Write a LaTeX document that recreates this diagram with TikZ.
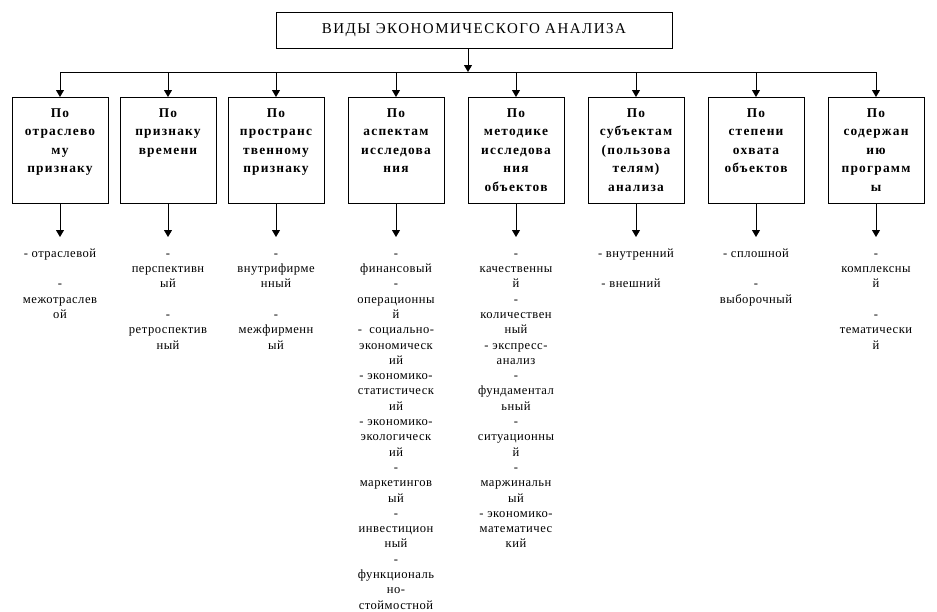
\documentclass[tikz,border=0pt]{standalone}
\usepackage{fontspec}
\setmainfont{Liberation Serif}
\newfontfamily\boxfont[LetterSpace=9]{Liberation Serif}
\newfontfamily\titlefont[LetterSpace=10]{Liberation Serif}
\newfontfamily\listfont[LetterSpace=4]{Liberation Serif}
\usetikzlibrary{arrows.meta}
\newcommand\cattext[1]{\parbox[t][106pt][t]{96pt}{\centering\rule{0pt}{20pt}#1}}
\begin{document}
\begin{tikzpicture}[x=1pt,y=-1pt,
  titlebox/.style={draw, line width=0.9pt, minimum width=396pt, minimum height=36pt, inner sep=0pt,
    font=\titlefont\fontsize{15}{18}\selectfont, text height=10pt, text depth=3pt},
  catbox/.style={draw, line width=0.9pt, inner sep=0pt, anchor=north,
    font=\boxfont\bfseries\fontsize{13.4}{18.5}\selectfont},
  listnode/.style={anchor=north, inner sep=0pt, align=center,
    font=\listfont\fontsize{12.6}{15.3}\selectfont},
  conn/.style={line width=0.9pt, -{Triangle[length=7pt,width=8pt]}},
  bus/.style={line width=0.9pt}]
\useasboundingbox (0,0) rectangle (937,611);

\node[titlebox] (t) at (474,30) {ВИДЫ ЭКОНОМИЧЕСКОГО АНАЛИЗА};
\coordinate (hub) at (468,72);
\draw[conn] (t.south -| hub) -- (hub);

\foreach \k/\cx in {1/60,2/168,3/276,4/396,5/516,6/636,7/756,8/876}{
  \coordinate (j\k) at (\cx,72);
  \coordinate (a\k) at (\cx,237);
}
\draw[bus] (j1) -- (j8);

\node[catbox] (b1) at (60,97)  {\cattext{По\\отраслево\\му\\признаку}};
\node[catbox] (b2) at (168,97) {\cattext{По\\признаку\\времени}};
\node[catbox] (b3) at (276,97) {\cattext{По\\пространс\\твенному\\признаку}};
\node[catbox] (b4) at (396,97) {\cattext{По\\аспектам\\исследова\\ния}};
\node[catbox] (b5) at (516,97) {\cattext{По\\методике\\исследова\\ния\\объектов}};
\node[catbox] (b6) at (636,97) {\cattext{По\\субъектам\\(пользова\\телям)\\анализа}};
\node[catbox] (b7) at (756,97) {\cattext{По\\степени\\охвата\\объектов}};
\node[catbox] (b8) at (876,97) {\cattext{По\\содержан\\ию\\программ\\ы}};

\foreach \k in {1,...,8}{
  \draw[conn] (j\k) -- (b\k.north);
  \draw[conn] (b\k.south) -- (a\k);
}

\node[listnode] (l1) at (a1) {\rule{0pt}{20pt}- отраслевой\\[15.3pt]-\\межотраслев\\ой};
\node[listnode] (l2) at (a2) {\rule{0pt}{20pt}-\\перспективн\\ый\\[15.3pt]-\\ретроспектив\\ный};
\node[listnode] (l3) at (a3) {\rule{0pt}{20pt}-\\внутрифирме\\нный\\[15.3pt]-\\межфирменн\\ый};
\node[listnode] (l4) at (a4) {\rule{0pt}{20pt}-\\финансовый\\-\\операционны\\й\\-\ \ социально-\\экономическ\\ий\\- экономико-\\статистическ\\ий\\- экономико-\\экологическ\\ий\\-\\маркетингов\\ый\\-\\инвестицион\\ный\\-\\функциональ\\но-\\стоймостной};
\node[listnode] (l5) at (a5) {\rule{0pt}{20pt}-\\качественны\\й\\-\\количествен\\ный\\- экспресс-\\анализ\\-\\фундаментал\\ьный\\-\\ситуационны\\й\\-\\маржинальн\\ый\\- экономико-\\математичес\\кий};
\node[listnode] (l6) at (a6) {\rule{0pt}{20pt}- внутренний\\[15.3pt]- внешний\hspace*{10pt}};
\node[listnode] (l7) at (a7) {\rule{0pt}{20pt}- сплошной\\[15.3pt]-\\выборочный};
\node[listnode] (l8) at (a8) {\rule{0pt}{20pt}-\\комплексны\\й\\[15.3pt]-\\тематически\\й};
\end{tikzpicture}
\end{document}
